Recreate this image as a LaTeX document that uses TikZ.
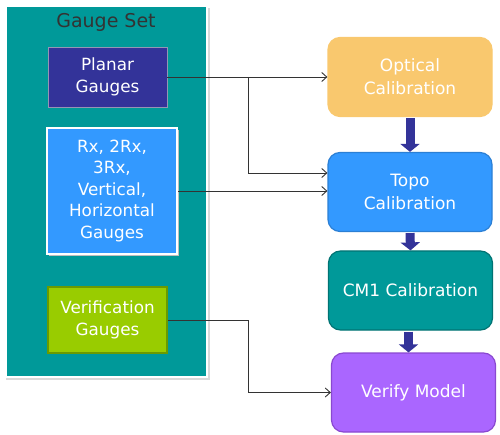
\documentclass[tikz,border=0pt]{standalone}
\usepackage{fontspec}
\setmainfont{DejaVu Sans}
\usetikzlibrary{arrows.meta,calc}
\definecolor{teal}{HTML}{009999}
\definecolor{planarc}{HTML}{333399}
\definecolor{rxc}{HTML}{3399FF}
\definecolor{verc}{HTML}{99CC00}
\definecolor{verb}{HTML}{6A9A00}
\definecolor{optc}{HTML}{F9C86E}
\definecolor{topob}{HTML}{2B7FD4}
\definecolor{cmb}{HTML}{007373}
\definecolor{vmc}{HTML}{AA66FF}
\definecolor{vmb}{HTML}{8A48D0}
\definecolor{linec}{HTML}{333333}
\tikzset{
  gbox/.style={draw, align=center, text=white, inner sep=1pt,
    font=\fontsize{16.8}{21.5}\selectfont},
  fbox/.style={draw, rounded corners=12pt, align=center, text=white, inner sep=2pt,
    minimum width=164pt, minimum height=79pt, line width=1.2pt,
    font=\fontsize{17}{23}\selectfont},
  conn/.style={draw=linec, line width=0.9pt, -{Straight Barb[length=5pt,width=9pt]}},
  flow/.style={draw=planarc, line width=9pt, -{Triangle[length=8pt,width=19pt]}}
}
\begin{document}
\begin{tikzpicture}[x=1pt,y=-1pt]
\useasboundingbox (0,0) rectangle (500,435);
% container
\fill[black!15] (6,8) rectangle (210,380);
\fill[white] (3,5) rectangle (208,378);
\fill[teal] (7,7) rectangle (206,376);
\node[font=\fontsize{19}{22}\selectfont, text=linec] (title) at (106,22) {Gauge Set};
% gauge boxes
\node[gbox, fill=planarc, draw=black!25!white!70!planarc, line width=0.8pt,
  minimum width=119pt, minimum height=60pt] (planar) at (107.5,77) {Planar\\Gauges};
\fill[black!25] (49,130) rectangle (179,256);
\node[gbox, fill=rxc, draw=white, line width=2pt,
  minimum width=130pt, minimum height=126pt] (rx) at (112,191)
  {Rx, 2Rx,\\3Rx,\\Vertical,\\Horizontal\\Gauges};
\node[gbox, fill=verc, draw=verb, line width=1.6pt,
  minimum width=119pt, minimum height=66pt] (verif) at (107.5,320) {Verification\\Gauges};
% flow boxes
\node[fbox, fill=optc, draw=optc] (opt) at (410,77) {Optical\\Calibration};
\node[fbox, fill=rxc, draw=topob] (topo) at (410,192) {Topo\\Calibration};
\node[fbox, fill=teal, draw=cmb] (cm1) at (410.5,290.5) {CM1 Calibration};
\node[fbox, fill=vmc, draw=vmb] (vm) at (413.5,392.5) {Verify Model};
% thick arrows
\draw[flow] ([yshift=-1pt]opt.south) -- (topo.north);
\draw[flow] ([yshift=-1pt]topo.south) -- (cm1.north);
\draw[flow] ([xshift=-2pt,yshift=-1pt]cm1.south) -- ([xshift=-2pt]cm1.south |- vm.north);
% connectors
\coordinate (j1) at (248,77);
\coordinate (j2) at (248,320);
\coordinate (t1) at ($(topo.west)+(0,-19)$);
\draw[conn] (planar.east) -- (opt.west);
\draw[conn] (j1) |- (t1);
\draw[conn] (rx.east) -- (rx.east -| topo.west);
\draw[conn] (verif.east) -- (j2) |- (vm.west);
\end{tikzpicture}
\end{document}
